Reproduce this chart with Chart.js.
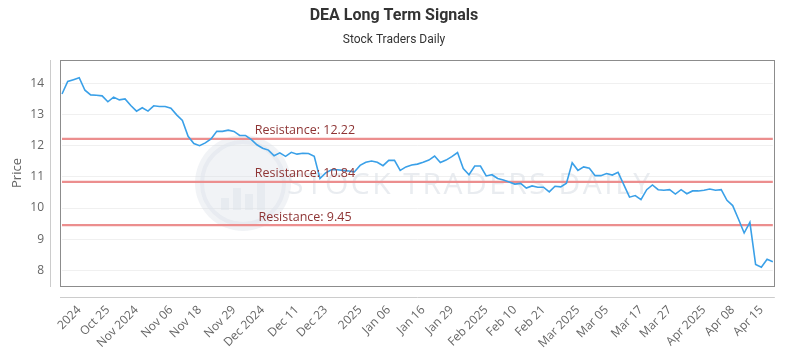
<!DOCTYPE html>
<html>
<head>
<meta charset="utf-8">
<script src="https://cdn.jsdelivr.net/npm/chart.js@4.4.1/dist/chart.umd.min.js"></script>
<style>
  html, body { margin: 0; padding: 0; background: #ffffff; }
  #wrap { width: 800px; height: 350px; }
</style>
</head>
<body>
<div id="wrap"><canvas id="c" width="800" height="350"></canvas></div>
<script>
// ---- data ----
const prices = [
  13.66, 14.06, 14.12, 14.18, 13.78, 13.63, 13.62, 13.60, 13.41, 13.56,
  13.47, 13.50, 13.29, 13.11, 13.22, 13.11, 13.28, 13.26, 13.26, 13.20,
  12.99, 12.81, 12.30, 12.07, 12.00, 12.09, 12.22, 12.46, 12.46, 12.50,
  12.46, 12.33, 12.33, 12.20, 12.03, 11.92, 11.86, 11.68, 11.77, 11.66,
  11.79, 11.73, 11.76, 11.75, 11.66, 10.95, 11.13, 11.23, 11.23, 11.21,
  11.19, 11.16, 11.37, 11.47, 11.51, 11.47, 11.36, 11.53, 11.53, 11.21,
  11.32, 11.38, 11.41, 11.47, 11.54, 11.67, 11.46, 11.54, 11.65, 11.78,
  11.27, 11.07, 11.35, 11.35, 11.03, 11.07, 10.95, 10.90, 10.84, 10.77,
  10.79, 10.64, 10.71, 10.67, 10.67, 10.52, 10.70, 10.68, 10.80, 11.45,
  11.21, 11.32, 11.28, 11.04, 11.04, 11.11, 11.06, 11.15, 10.75, 10.35,
  10.40, 10.27, 10.59, 10.74, 10.59, 10.57, 10.59, 10.45, 10.59, 10.46,
  10.55, 10.55, 10.57, 10.61, 10.57, 10.59, 10.25, 10.08, 9.65, 9.20,
  9.54, 8.19, 8.10, 8.36, 8.28
];
const resistanceLevels = [12.22, 10.84, 9.45];
const tickLabels = ["2024", "Oct 25", "Nov 2024", "Nov 06", "Nov 18", "Nov 29", "Dec 2024",
  "Dec 11", "Dec 23", "2025", "Jan 06", "Jan 16", "Jan 29", "Feb 2025", "Feb 10", "Feb 21",
  "Mar 2025", "Mar 05", "Mar 17", "Mar 27", "Apr 2025", "Apr 08", "Apr 15"];
const tickIndices = [3, 8, 13, 19, 24, 30, 35, 41, 46, 52, 57, 63, 68, 74, 79, 84, 90, 95, 101, 106, 112, 117, 122];
const yTicks = [8, 9, 10, 11, 12, 13, 14];
const yMin = 7.5, yMax = 14.75;

// ---- build category labels ----
const labels = prices.map(() => "");
tickIndices.forEach((idx, k) => { labels[idx] = tickLabels[k]; });

const resistanceColor = "#ec8e8e";
const datasets = [
  {
    label: "Price",
    data: prices,
    borderColor: "#3aa0e8",
    borderWidth: 1.6,
    pointRadius: 0,
    tension: 0,
    fill: false,
    order: 0
  }
];
resistanceLevels.forEach(level => {
  datasets.push({
    label: "Resistance: " + level.toFixed(2),
    data: prices.map(() => level),
    borderColor: resistanceColor,
    borderWidth: 2.2,
    pointRadius: 0,
    fill: false,
    order: 1
  });
});

const decorPlugin = {
  id: "decor",
  beforeDatasetsDraw(chart) {
    const { ctx } = chart;
    ctx.save();
    // watermark
    ctx.fillStyle = "rgba(215,222,230,0.35)";
    ctx.beginPath();
    ctx.arc(243, 183, 48, 0, Math.PI * 2);
    ctx.fill();
    ctx.strokeStyle = "rgba(225,230,236,0.6)";
    ctx.lineWidth = 4;
    ctx.beginPath();
    ctx.arc(243, 183, 41, 0, Math.PI * 2);
    ctx.stroke();
    ctx.fillStyle = "rgba(220,226,232,0.45)";
    [[-22, 12], [-10, 22], [2, 16], [14, 28]].forEach(([dx, h]) => {
      ctx.fillRect(243 + dx, 210 - h, 8, h);
    });
    ctx.font = "30px 'Open Sans'";
    ctx.fillStyle = "rgba(224,228,233,0.7)";
    ctx.textBaseline = "middle";
    ctx.textAlign = "left";
    try { ctx.letterSpacing = "2.5px"; } catch (e) {}
    ctx.fillText("STOCK TRADERS DAILY", 287, 185);
    ctx.restore();
  },
  afterDraw(chart) {
    const { ctx, chartArea: a, scales } = chart;
    ctx.save();
    // plot border
    ctx.strokeStyle = "#8c8c8c";
    ctx.lineWidth = 1;
    ctx.strokeRect(Math.round(a.left) - 2 + 0.5, Math.round(a.top) + 0.5,
      Math.round(a.right - a.left) + 4 - 1, Math.round(a.bottom - a.top));
    // offset axis lines
    ctx.strokeStyle = "#cccccc";
    ctx.beginPath();
    ctx.moveTo(a.left - 12 + 0.5, a.top);
    ctx.lineTo(a.left - 12 + 0.5, a.bottom + 1);
    ctx.moveTo(a.left - 2, a.bottom + 11 + 0.5);
    ctx.lineTo(a.right + 2, a.bottom + 11 + 0.5);
    ctx.stroke();
    // resistance labels
    ctx.font = "12.5px 'Open Sans'";
    ctx.fillStyle = "#8e3434";
    ctx.textAlign = "center";
    ctx.textBaseline = "middle";
    resistanceLevels.forEach(level => {
      const y = scales.y.getPixelForValue(level);
      ctx.fillText("Resistance: " + level.toFixed(2), a.left + 243, y - 8);
    });
    ctx.restore();
  }
};

new Chart(document.getElementById("c"), {
  type: "line",
  data: { labels, datasets },
  plugins: [decorPlugin],
  options: {
    responsive: false,
    animation: false,
    devicePixelRatio: 1,
    layout: { padding: { left: 0, right: 12, top: 0, bottom: 0 } },
    plugins: {
      legend: { display: false },
      tooltip: { enabled: false },
      title: {
        display: true,
        text: "DEA Long Term Signals",
        color: "#333333",
        font: { family: "Roboto", size: 16, weight: "bold", lineHeight: 1.2 },
        padding: { top: 6, bottom: 8 }
      },
      subtitle: {
        display: true,
        text: "Stock Traders Daily",
        color: "#333333",
        font: { family: "Roboto", size: 12, lineHeight: 1.2 },
        padding: { top: 0, bottom: 12.4 }
      }
    },
    scales: {
      x: {
        type: "category",
        grid: { display: false, drawTicks: false },
        border: { display: false },
        afterFit(scale) { scale.height = 64; },
        ticks: {
          autoSkip: false,
          minRotation: 45,
          maxRotation: 45,
          padding: 17,
          color: "#666666",
          font: { family: "Open Sans", size: 12 }
        }
      },
      y: {
        min: yMin,
        max: yMax,
        afterBuildTicks(scale) { scale.ticks = yTicks.map(v => ({ value: v })); },
        afterFit(scale) { scale.width = 62; },
        grid: { color: "#f0f0f0", drawTicks: false },
        border: { display: false },
        ticks: {
          padding: 18,
          color: "#666666",
          font: { family: "Open Sans", size: 12 }
        },
        title: {
          display: true,
          text: "Price",
          color: "#666666",
          font: { family: "Open Sans", size: 13 },
          padding: { top: 9, bottom: 0 }
        }
      }
    }
  }
});
</script>
</body>
</html>
